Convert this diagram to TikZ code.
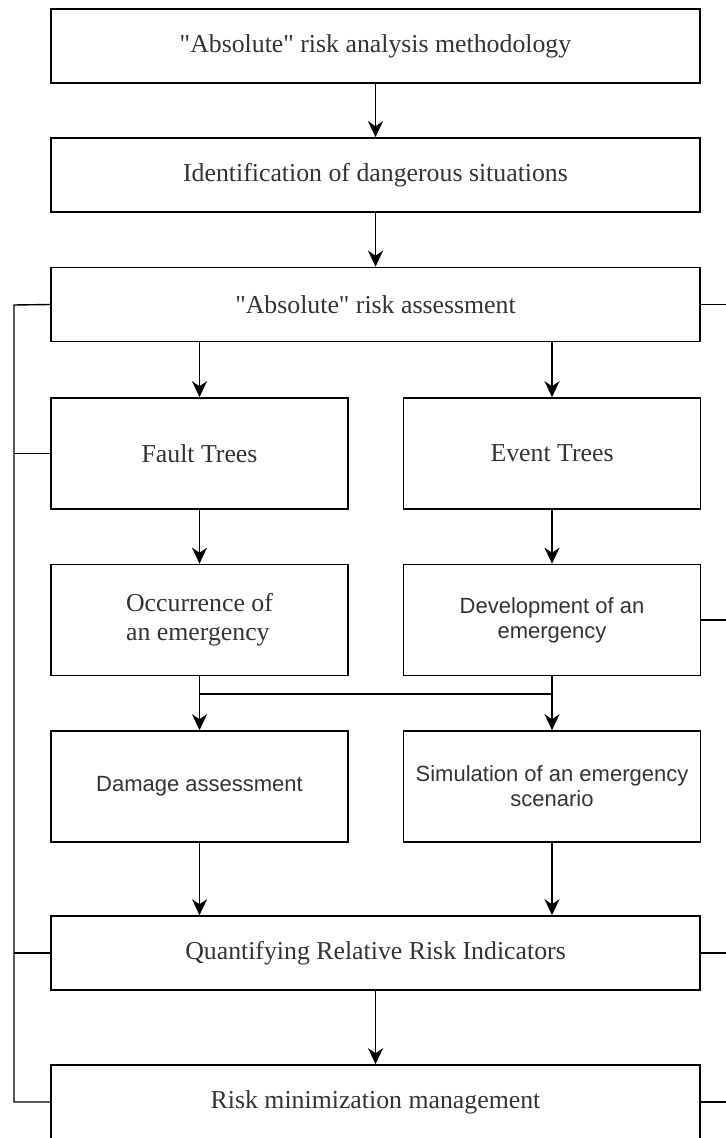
\documentclass[tikz,border=0pt]{standalone}
\usepackage{fontspec}
\setmainfont{Liberation Serif}
\setsansfont{Liberation Sans}
\usetikzlibrary{arrows.meta}

\begin{document}
\begin{tikzpicture}[x=0.5pt, y=-0.5pt,
    b/.style={draw, line width=0.8pt, text=black!80, align=center, inner sep=2pt,
        font=\fontsize{12.9}{14.5}\selectfont},
    wide/.style={b, minimum width=324.5pt, minimum height=37pt},
    half/.style={b, minimum width=148.5pt, minimum height=55.5pt},
    sf/.style={font=\sffamily\fontsize{11}{12.6}\selectfont},
    e/.style={line width=0.7pt},
    a/.style={e, -{Stealth[length=8pt, width=7.5pt, inset=2.5pt]}}
]

    \useasboundingbox (0,0) rectangle (726,1138);

    % main column
    \node[wide] (meth) at (375.5,46) {\textquotedbl Absolute\textquotedbl{} risk analysis methodology};
    \node[wide] (ident) at (375.5,175) {Identification of dangerous situations};
    \node[wide] (assess) at (375.5,304.5) {\textquotedbl Absolute\textquotedbl{} risk assessment};

    % two branches
    \node[half] (ft) at (199.5,453.5) {Fault Trees};
    \node[half] (et) at (552,453.5) {Event Trees};

    \node[half, align=left] (occ) at (199.5,620) {Occurrence of\\an emergency};
    \node[half, sf] (dev) at (552,620) {Development of an\\emergency};

    \node[half, sf] (dam) at (199.5,786.5) {Damage assessment};
    \node[half, sf] (sim) at (552,786.5) {Simulation of an emergency\\scenario};

    % bottom
    \node[wide] (quant) at (375.5,953) {Quantifying Relative Risk Indicators};
    \node[wide] (risk) at (375.5,1102) {Risk minimization management};

    % joints and free ends
    \coordinate (j1) at (199.5,694);
    \coordinate (j2) at (552,694);
    \coordinate (lt) at (14,305);
    \coordinate (rt) at (726,305);

    % arrows down the middle
    \draw[a] (meth) -- (ident);
    \draw[a] (ident) -- (assess);
    \draw[a] (quant) -- (risk);

    % arrows into the branches
    \draw[a] (assess.south -| ft) -- (ft);
    \draw[a] (assess.south -| et) -- (et);
    \draw[a] (ft) -- (occ);
    \draw[a] (et) -- (dev);

    % cross links
    \draw[e] (occ.south) -- (j1) -- (j2);
    \draw[e] (dev.south) -- (j2);
    \draw[a] (j1) -- (dam);
    \draw[a] (j2) -- (sim);

    \draw[a] (dam.south) -- (dam.south |- quant.north);
    \draw[a] (sim.south) -- (sim.south |- quant.north);

    % feedback line on the left
    \draw[e] (assess.west) -- (lt) |- (risk.west);
    \draw[e] (ft.west) -- (ft.west -| lt);
    \draw[e] (quant.west) -- (quant.west -| lt);

    % free ends on the right
    \draw[e] (assess.east) -- (assess.east -| rt);
    \draw[e] (dev.east) -- (dev.east -| rt);
    \draw[e] (quant.east) -- (quant.east -| rt);
    \draw[e] (risk.east) -- (risk.east -| rt);

\end{tikzpicture}
\end{document}
